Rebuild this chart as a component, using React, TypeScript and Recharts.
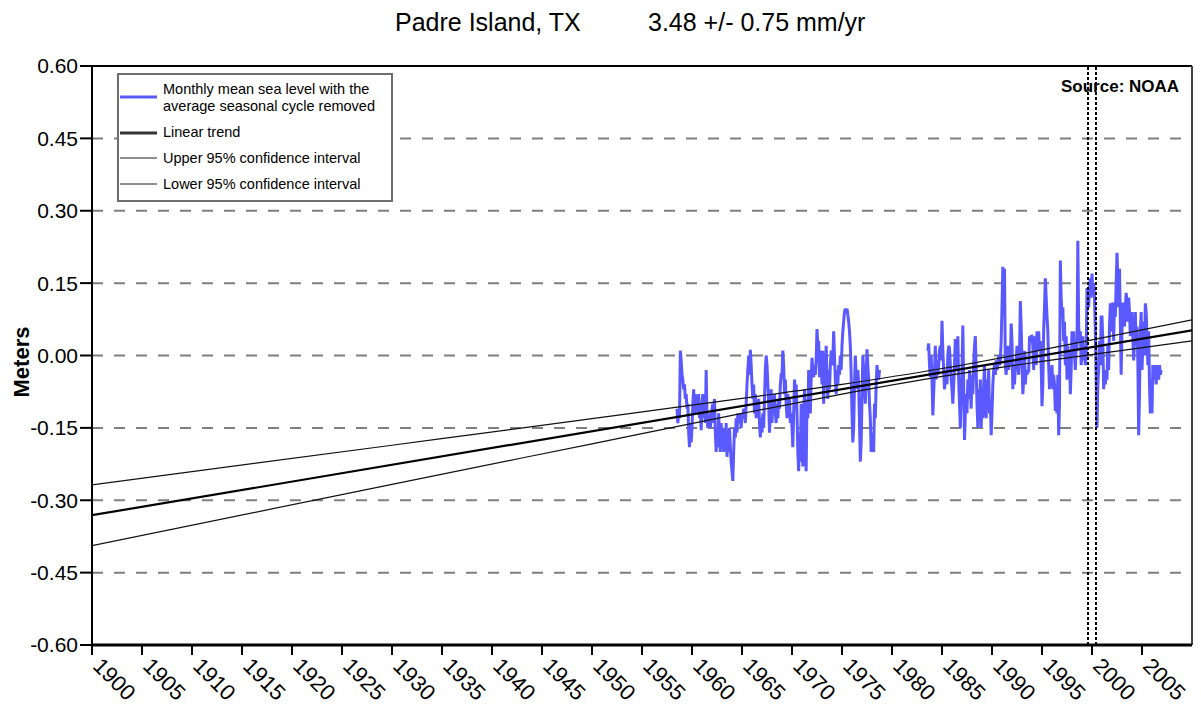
import React from "react";
import {
  LineChart,
  Line,
  XAxis,
  YAxis,
  CartesianGrid,
  ReferenceLine,
} from "recharts";

// ---- Data ----
// Monthly mean sea level, seasonal cycle removed (meters)
const seg1Start = 1958.5; // first month of first record segment
const seg1Values = [
  -0.11, -0.14, -0.12, -0.13, 0.01, -0.01,
  -0.04, -0.05, -0.07, -0.06, -0.09, -0.08, -0.11, -0.10, -0.16, -0.19, -0.14, -0.18,
  -0.15, -0.10, -0.07, -0.12, -0.08, -0.11, -0.09, -0.12, -0.08, -0.13, -0.10, -0.155,
  -0.10, -0.08, -0.13, -0.09, -0.14, -0.03, -0.13, -0.15, -0.12, -0.14, -0.15, -0.13,
  -0.11, -0.10, -0.14, -0.09, -0.16, -0.20, -0.15, -0.19, -0.12, -0.17, -0.20, -0.14,
  -0.18, -0.15, -0.20, -0.16, -0.19, -0.14, -0.21, -0.17, -0.20, -0.15, -0.19, -0.22,
  -0.24, -0.26, -0.20, -0.15, -0.17, -0.13, -0.16, -0.12, -0.14, -0.12, -0.13, -0.15,
  -0.12, -0.13, -0.11, -0.12, -0.14, -0.10, -0.06, -0.03, 0.0, -0.04, 0.012, -0.02,
  -0.06, -0.09, -0.06, -0.12, -0.08, -0.13, -0.10, -0.12, -0.09, -0.14, -0.17, -0.13,
  -0.16, -0.12, -0.15, -0.09, -0.03, 0.0, -0.02, -0.06, -0.10, -0.16, -0.12, -0.07,
  -0.14, -0.09, -0.11, -0.08, -0.12, -0.14, -0.10, -0.13, -0.09, -0.11, -0.06, -0.04,
  -0.04, 0.01, -0.02, -0.08, -0.05, -0.10, -0.13, -0.08, -0.11, -0.09, -0.14, -0.12,
  -0.15, -0.19, -0.12, -0.05, -0.07, -0.06, -0.12, -0.20, -0.24, -0.16, -0.22, -0.10,
  -0.18, -0.23, -0.12, -0.07, -0.20, -0.24, -0.09, -0.13, -0.03, -0.10, -0.12, -0.05,
  -0.005, -0.03, -0.045, -0.02, -0.04, -0.01, 0.055, 0.02, 0.03, -0.045, 0.01, -0.02,
  -0.06, 0.01, -0.10, -0.04, -0.06, 0.02, -0.05, -0.09, -0.03, -0.07, -0.02, 0.01,
  -0.02, -0.01, 0.05, 0.0, -0.05, -0.08, -0.03, -0.06, -0.02, -0.04, 0.0, -0.03,
  0.02, 0.05, 0.07, 0.09, 0.097, 0.09, 0.097, 0.085, 0.07, 0.05, 0.02, -0.04,
  -0.12, -0.18, -0.15, -0.06, 0.0, -0.04, -0.07, -0.03, -0.06, -0.14, -0.22, -0.18,
  -0.09, 0.0, -0.03, -0.06, -0.10, -0.04, 0.013, -0.02, -0.05, -0.10, -0.13, -0.20,
  -0.16, -0.19, -0.20, -0.10, -0.13, -0.06, -0.02, -0.04, -0.05, -0.03,
];

const seg2Start = 1983 + 7 / 12; // first month of second record segment
const seg2Values = [
  0.01, 0.025, -0.02, -0.045, 0.0,
  -0.05, -0.124, -0.08, -0.03, 0.02, -0.05, -0.01, -0.04, -0.02, 0.01, 0.02, -0.01,
  0.072, 0.01, -0.03, -0.07, -0.05, -0.03, -0.06, 0.0, 0.02, 0.015, -0.02, -0.05,
  -0.07, -0.10, -0.06, -0.02, 0.034, 0.01, -0.03, 0.04, -0.05, -0.10, -0.15, -0.08,
  -0.03, 0.062, -0.06, -0.175, -0.12, -0.08, -0.12, -0.05, -0.09, -0.03, -0.06, -0.11,
  -0.04, -0.08, -0.02, 0.02, 0.04, -0.03, -0.10, -0.15, -0.07, -0.12, -0.05, -0.15,
  -0.09, -0.13, -0.06, -0.02, -0.10, -0.13, -0.05, -0.08, -0.03, -0.12, -0.09, -0.165,
  -0.12, -0.06, -0.03, -0.02, -0.04, -0.01, -0.03, -0.02, 0.0, -0.02, -0.01, 0.03,
  0.10, 0.184, 0.15, 0.18, -0.02, -0.04, -0.005, 0.02, -0.03, 0.01, -0.02, 0.066,
  0.03, -0.07, -0.03, -0.06, -0.025, -0.01, 0.02, -0.02, -0.04, 0.0, 0.113, 0.06,
  -0.01, -0.08, -0.05, 0.01, -0.06, -0.03, -0.04, -0.03, -0.035, 0.04, 0.03, 0.04,
  0.04, 0.02, -0.03, 0.04, 0.0, -0.02, 0.05, 0.03, 0.05, 0.01, 0.03, -0.02,
  -0.105, -0.06, 0.05, 0.10, 0.16, 0.12, 0.08, 0.05, -0.02, -0.07, -0.03, -0.05,
  -0.02, -0.07, -0.04, -0.06, -0.115, -0.08, -0.12, -0.04, -0.165, -0.10, 0.197, 0.12,
  0.08, 0.10, 0.03, 0.07, -0.02, 0.04, -0.05, 0.02, -0.04, 0.01, -0.08, -0.03,
  0.05, 0.03, 0.05, 0.0, -0.03, 0.02, 0.01, 0.238, 0.06, 0.03, 0.05, -0.02,
  0.0, 0.04, -0.01, 0.02, -0.02, 0.0, 0.14, 0.12, 0.10, 0.14, 0.16, 0.12,
  0.17, 0.13, 0.15, 0.12, 0.05, -0.05, -0.15, -0.06, -0.03, 0.03, -0.02, 0.08,
  0.08, 0.03, -0.07, -0.03, -0.06, -0.04, -0.05, 0.02, -0.03, 0.06, 0.108, 0.05,
  0.07, 0.11, 0.03, 0.11, 0.08, 0.15, 0.213, 0.16, 0.10, 0.18, 0.07, -0.04,
  0.05, 0.11, 0.09, 0.06, 0.10, 0.13, 0.11, 0.07, 0.12, 0.09, 0.04, 0.08,
  0.09, 0.04, -0.01, 0.03, 0.09, 0.02, 0.06, -0.01, -0.165, -0.08, 0.05, 0.09,
  -0.03, 0.02, 0.07, 0.0, 0.108, 0.09, 0.04, -0.02, 0.05, -0.06, -0.12, -0.05,
  -0.12, -0.02, -0.05, -0.02, -0.04, -0.06, -0.03, -0.02, -0.05, -0.02, -0.04, -0.03,
];

// Linear trend and 95% confidence band (meters)
const trendYears = [1900, 2010];
const trendValues = [-0.331, 0.052];
const ciYears = [1900, 1930, 1950, 1965, 1975, 1985, 1995, 2010];
const upperValues = [-0.268, -0.186, -0.131, -0.089, -0.06, -0.027, 0.0115, 0.0738];
const lowerValues = [-0.394, -0.267, -0.183, -0.12, -0.08, -0.0434, -0.0123, 0.0302];

// Marker years (dotted verticals)
const markerYears = [1999.6, 2000.4];

// Axes ticks
const xTicks = [1900, 1905, 1910, 1915, 1920, 1925, 1930, 1935, 1940, 1945, 1950, 1955, 1960, 1965, 1970, 1975, 1980, 1985, 1990, 1995, 2000, 2005];
const yTicks = [-0.6, -0.45, -0.3, -0.15, 0, 0.15, 0.3, 0.45, 0.6];

const titleLeft = "Padre Island, TX";
const titleRight = "3.48 +/- 0.75 mm/yr";
const yLabel = "Meters";
const sourceText = "Source: NOAA";
const legendItems = [
  "Monthly mean sea level with the average seasonal cycle removed",
  "Linear trend",
  "Upper 95% confidence interval",
  "Lower 95% confidence interval",
];

// ---- Build series ----
const seg1Data = seg1Values.map((v, i) => ({ year: seg1Start + i / 12, level: v }));
const seg2Data = seg2Values.map((v, i) => ({ year: seg2Start + i / 12, level: v }));
const trendData = trendYears.map((y, i) => ({ year: y, level: trendValues[i] }));
const upperData = ciYears.map((y, i) => ({ year: y, level: upperValues[i] }));
const lowerData = ciYears.map((y, i) => ({ year: y, level: lowerValues[i] }));

const FONT = "'Liberation Sans', Arial, Helvetica, sans-serif";
const BLUE = "#5959FF";

const XTick = (props: any) => {
  const { x, y, payload } = props;
  return (
    <g transform={`translate(${x + 11},${y - 1})`}>
      <text
        x={0}
        y={0}
        dy="0.72em"
        transform="rotate(45)"
        textAnchor="start"
        fontSize={22}
        fontFamily={FONT}
        fill="#000"
      >
        {payload.value}
      </text>
    </g>
  );
};

const LegendBox = () => (
  <div
    style={{
      position: "absolute",
      left: 117,
      top: 73,
      width: 272,
      height: 125,
      border: "2px solid #6e6e6e",
      background: "#fff",
      fontFamily: FONT,
      fontSize: 14.5,
      color: "#000",
      lineHeight: "17px",
    }}
  >
    <svg style={{ position: "absolute", left: 0, top: 0 }} width={40} height={125}>
      <line x1={1} x2={38} y1={22} y2={22} stroke={BLUE} strokeWidth={3} />
      <line x1={1} x2={38} y1={58} y2={58} stroke="#333" strokeWidth={3} />
      <line x1={1} x2={38} y1={83} y2={83} stroke="#222" strokeWidth={1} />
      <line x1={1} x2={38} y1={109} y2={109} stroke="#222" strokeWidth={1} />
    </svg>
    <div style={{ position: "absolute", left: 44, top: 6, width: 226 }}>{legendItems[0]}</div>
    <div style={{ position: "absolute", left: 44, top: 49 }}>{legendItems[1]}</div>
    <div style={{ position: "absolute", left: 44, top: 75 }}>{legendItems[2]}</div>
    <div style={{ position: "absolute", left: 44, top: 101 }}>{legendItems[3]}</div>
  </div>
);

export default function App() {
  return (
    <div
      style={{
        position: "absolute",
        left: 0,
        top: 0,
        width: 1201,
        height: 721,
        background: "#fff",
        fontFamily: FONT,
      }}
    >
      <LineChart
        width={1201}
        height={721}
        margin={{ top: 66, right: 9, bottom: 0, left: 0 }}
      >
        <CartesianGrid
          vertical={false}
          stroke="#7f7f7f"
          strokeWidth={2}
          strokeDasharray="11 11"
        />
        <XAxis
          type="number"
          dataKey="year"
          domain={[1900, 2010]}
          ticks={xTicks}
          interval={0}
          allowDataOverflow
          height={76}
          tickSize={10}
          tickMargin={2}
          axisLine={{ stroke: "#000", strokeWidth: 3 }}
          tickLine={{ stroke: "#000", strokeWidth: 2 }}
          tick={<XTick />}
        />
        <YAxis
          type="number"
          domain={[-0.6, 0.6]}
          ticks={yTicks}
          interval={0}
          allowDataOverflow
          width={92}
          tickSize={12}
          tickMargin={2}
          tickFormatter={(v: number) => v.toFixed(2)}
          axisLine={{ stroke: "#000", strokeWidth: 2 }}
          tickLine={{ stroke: "#000", strokeWidth: 2 }}
          tick={{ fontSize: 21, fill: "#000", fontFamily: FONT }}
        />
        <ReferenceLine y={0.6} stroke="#000" strokeWidth={2} />
        <ReferenceLine x={2010} stroke="#444" strokeWidth={2} />
        <Line
          data={seg1Data}
          dataKey="level"
          stroke={BLUE}
          strokeWidth={3}
          dot={false}
          isAnimationActive={false}
          type="linear"
        />
        <Line
          data={seg2Data}
          dataKey="level"
          stroke={BLUE}
          strokeWidth={3}
          dot={false}
          isAnimationActive={false}
          type="linear"
        />
        <Line
          data={upperData}
          dataKey="level"
          stroke="#111"
          strokeWidth={1.2}
          dot={false}
          isAnimationActive={false}
          type="monotone"
        />
        <Line
          data={lowerData}
          dataKey="level"
          stroke="#111"
          strokeWidth={1.2}
          dot={false}
          isAnimationActive={false}
          type="monotone"
        />
        <Line
          data={trendData}
          dataKey="level"
          stroke="#000"
          strokeWidth={2.2}
          dot={false}
          isAnimationActive={false}
          type="linear"
        />
        {markerYears.map((m) => (
          <ReferenceLine key={m} x={m} stroke="#000" strokeWidth={2} strokeDasharray="3 2" />
        ))}
      </LineChart>

      <div
        style={{
          position: "absolute",
          left: 395,
          top: 8,
          fontSize: 25,
          color: "#000",
          whiteSpace: "nowrap",
        }}
      >
        {titleLeft}
      </div>
      <div
        style={{
          position: "absolute",
          left: 648,
          top: 8,
          fontSize: 25,
          color: "#000",
          whiteSpace: "nowrap",
        }}
      >
        {titleRight}
      </div>
      <div
        style={{
          position: "absolute",
          left: 22,
          top: 362,
          transform: "translate(-50%, -50%) rotate(-90deg)",
          fontSize: 22,
          fontWeight: "bold",
          color: "#000",
          whiteSpace: "nowrap",
        }}
      >
        {yLabel}
      </div>
      <div
        style={{
          position: "absolute",
          left: 1061,
          top: 77,
          fontSize: 17,
          fontWeight: "bold",
          color: "#000",
          whiteSpace: "nowrap",
        }}
      >
        {sourceText}
      </div>
      <LegendBox />
    </div>
  );
}
